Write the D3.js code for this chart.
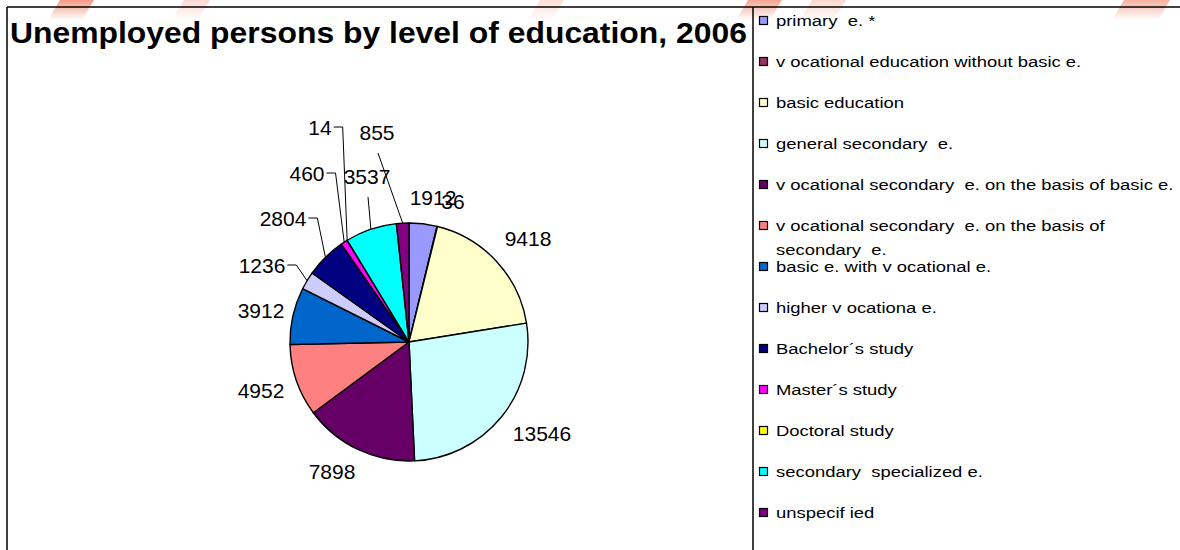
<!DOCTYPE html>
<html>
<head>
<meta charset="utf-8">
<script src="https://cdn.jsdelivr.net/npm/d3@7"></script>
<style>
  html, body { margin: 0; padding: 0; background: #ffffff; }
  svg { display: block; }
  text { font-family: "Liberation Sans", Arial, sans-serif; }
</style>
</head>
<body>
<svg id="chart" width="1180" height="550"></svg>
<script>
// ---- data ----
const title = "Unemployed persons by level of education, 2006";
const categories = [
  "primary e. *",
  "vocational education without basic e.",
  "basic education",
  "general secondary e.",
  "vocational secondary e. on the basis of basic e.",
  "vocational secondary e. on the basis of secondary e.",
  "basic e. with vocational e.",
  "higher vocationa e.",
  "Bachelor´s study",
  "Master´s study",
  "Doctoral study",
  "secondary specialized e.",
  "unspecified"
];
const legendLines = [
  ["primary  e. *"],
  ["v ocational education without basic e."],
  ["basic education"],
  ["general secondary  e."],
  ["v ocational secondary  e. on the basis of basic e."],
  ["v ocational secondary  e. on the basis of", "secondary  e."],
  ["basic e. with v ocational e."],
  ["higher v ocationa e."],
  ["Bachelor´s study"],
  ["Master´s study"],
  ["Doctoral study"],
  ["secondary  specialized e."],
  ["unspecif ied"]
];
const values = [1912, 36, 9418, 13546, 7898, 4952, 3912, 1236, 2804, 460, 14, 3537, 855];
const colors = ["#9999FF", "#993366", "#FFFFCC", "#CCFFFF", "#660066", "#FF8080",
                "#0066CC", "#CCCCFF", "#000080", "#FF00FF", "#FFFF00", "#00FFFF", "#800080"];

// ---- layout (label placement relative to pie centre, leader attachment side) ----
const labelOffsets = [[24,-145],[44,-141],[119,-104],[133,91],[-77,129],[-148,48],
                      [-148,-32],[-147,-77],[-126,-124],[-102,-169],[-89,-215],[-42,-166],[-32,-210]];
const leaderSide = [null,null,null,null,null,null,null,"r","r","r","r","b","b"];

const svg = d3.select("#chart");
const W = 1180, H = 550;

// watermark stripes at the top
const defs = svg.append("defs");
const grad = defs.append("linearGradient").attr("id","wm").attr("x1",0).attr("y1",0).attr("x2",0).attr("y2",1);
grad.append("stop").attr("offset","0%").attr("stop-color","#ee7a5e").attr("stop-opacity",0.85);
grad.append("stop").attr("offset","100%").attr("stop-color","#ee7a5e").attr("stop-opacity",0);
const stripes = [[48,34,0.9],[172,26,0.35],[528,24,0.3],[736,34,0.8],[800,34,0.35],[1112,46,0.7]];
svg.append("g").selectAll("path").data(stripes).join("path")
  .attr("d", s => `M${s[0]},20 L${s[0]+12},0 L${s[0]+s[1]+12},0 L${s[0]+s[1]},20 Z`)
  .attr("fill","url(#wm)").attr("opacity", s => s[2]);

// frame
const frame = svg.append("g").attr("stroke","#000").attr("stroke-width",1.5).attr("fill","none");
frame.append("line").attr("x1",7).attr("y1",7).attr("x2",W).attr("y2",7);
frame.append("line").attr("x1",7).attr("y1",7).attr("x2",7).attr("y2",H);
frame.append("line").attr("x1",753).attr("y1",7).attr("x2",753).attr("y2",H);

// title
const t = svg.append("text").attr("x",10).attr("y",43)
  .attr("font-weight","bold").attr("font-size",29).attr("fill","#000").text(title);
{
  const len = t.node().getComputedTextLength();
  const target = 737;
  const s = target / len;
  t.attr("transform", `translate(10,0) scale(${s},1) translate(-10,0)`);
}

// pie
const cx = 409, cy = 342, r = 119;
const pie = d3.pie().sort(null).value(d => d).startAngle(0).endAngle(2*Math.PI);
const arcs = pie(values);
const arc = d3.arc().innerRadius(0).outerRadius(r);
const g = svg.append("g").attr("transform", `translate(${cx},${cy})`);
g.selectAll("path").data(arcs).join("path")
  .attr("d", arc)
  .attr("fill", (d,i) => colors[i])
  .attr("stroke","#000").attr("stroke-width",1.4).attr("stroke-linejoin","round");

// labels
const fs = 21;
const labG = g.append("g");
arcs.forEach((a,i) => {
  const [dx, dy] = labelOffsets[i];
  const txt = labG.append("text").attr("x",dx).attr("y",dy + 7.5)
    .attr("text-anchor","middle").attr("font-size",fs).attr("fill","#000")
    .text(values[i]);
  const side = leaderSide[i];
  if (side) {
    const mid = (a.startAngle + a.endAngle)/2;
    const px = r*Math.sin(mid), py = -r*Math.cos(mid);
    const w = txt.node().getComputedTextLength();
    let pts;
    if (side === "r") {
      const sx = dx + w/2 + 2;
      pts = [[sx,dy],[sx+9,dy],[px,py]];
    } else {
      pts = [[dx+1,dy+21],[px,py]];
    }
    labG.append("path").attr("d", d3.line()(pts))
      .attr("fill","none").attr("stroke","#000").attr("stroke-width",1);
  }
});

// legend
const lg = svg.append("g");
const ly0 = 21, lstep = 41, tx = 776, sx = 1.19;
legendLines.forEach((lines,i) => {
  const y = ly0 + i*lstep;
  lg.append("rect").attr("x",759.5).attr("y",y-4.5).attr("width",8).attr("height",8)
    .attr("fill",colors[i]).attr("stroke","#000").attr("stroke-width",1.2);
  lines.forEach((ln,j) => {
    lg.append("text").attr("x",tx).attr("y",y + 5.5 + j*24)
      .attr("font-size",15.5).attr("fill","#000")
      .style("white-space","pre")
      .attr("transform", `translate(${tx},0) scale(${sx},1) translate(${-tx},0)`)
      .text(ln);
  });
});
</script>
</body>
</html>
